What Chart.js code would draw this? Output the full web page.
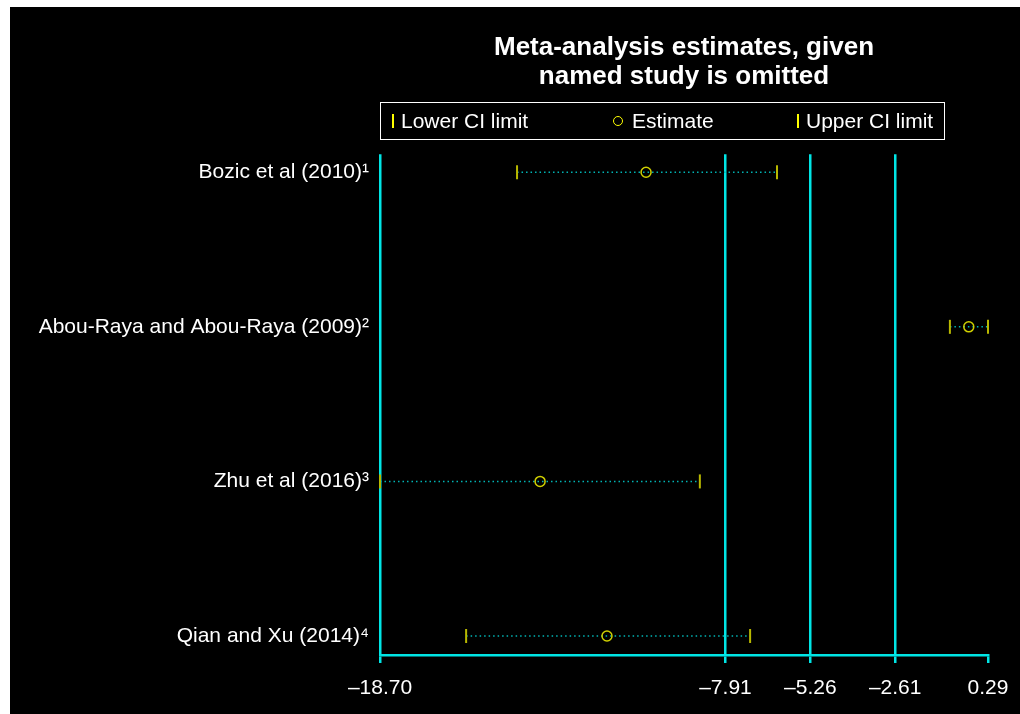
<!DOCTYPE html>
<html>
<head>
<meta charset="utf-8">
<script src="https://cdn.jsdelivr.net/npm/chart.js@4.4.1/dist/chart.umd.min.js"></script>
<style>
  html, body { margin: 0; padding: 0; background: #fff; }
  body { width: 1020px; height: 714px; position: relative; overflow: hidden; font-family: "Liberation Sans", Arial, sans-serif; }
  #bg { position: absolute; left: 10px; top: 7px; width: 1010px; height: 707px; background: #000; }
  #wrap { position: absolute; left: 0; top: 0; width: 1020px; height: 714px; }
  #legend { position: absolute; left: 380px; top: 102px; width: 563px; height: 36px; border: 1.5px solid #fff; color: #fff; font-size: 21px; }
  #legend span { position: absolute; top: 50%; transform: translateY(-50%); white-space: nowrap; }
  #legend .tick { width: 2px; height: 14px; background: #ffff00; }
  #legend .circ { width: 8px; height: 8px; border: 1.5px solid #ffff00; border-radius: 50%; }
</style>
</head>
<body>
<div id="bg"></div>
<div id="wrap"><canvas id="forest"></canvas></div>
<div id="legend">
  <span class="tick" style="left:11px"></span><span style="left:20px">Lower CI limit</span>
  <span class="circ" style="left:232px"></span><span style="left:251px">Estimate</span>
  <span class="tick" style="left:416px"></span><span style="left:425px">Upper CI limit</span>
</div>
<script>
// studies, top to bottom
var studies = ["Bozic et al (2010)\u00b9", "Abou-Raya and Abou-Raya (2009)\u00b2", "Zhu et al (2016)\u00b3", "Qian and Xu (2014)\u2074"];
var lowerCI = [-14.42, -0.90, -18.70, -16.01];
var estimate = [-10.39, -0.31, -13.70, -11.61];
var upperCI = [-6.30, 0.29, -8.71, -7.14];
var xTicks = [-18.70, -7.91, -5.26, -2.61, 0.29];

var cyan = "#00e5e5";
var dotCyan = "#00b4b4";
var ciColor = "#b8b800";
var estColor = "#d0d000";

function rowY(i) { return i + 1; }

var lineSets = studies.map(function(s, i) {
    return {
        type: "line",
        label: s,
        data: [{x: lowerCI[i], y: rowY(i)}, {x: upperCI[i], y: rowY(i)}],
        borderColor: dotCyan,
        borderWidth: 1.5,
        borderDash: [1.5, 3],
        pointRadius: 0,
        clip: false,
        order: 3
    };
});

var datasets = lineSets.concat([{
    label: "Lower CI limit",
    data: lowerCI.map(function(v, i) { return {x: v, y: rowY(i)}; }),
    pointStyle: "line",
    rotation: 90,
    pointRadius: 7,
    borderColor: ciColor,
    borderWidth: 2,
    clip: false,
    order: 2
}, {
    label: "Upper CI limit",
    data: upperCI.map(function(v, i) { return {x: v, y: rowY(i)}; }),
    pointStyle: "line",
    rotation: 90,
    pointRadius: 7,
    borderColor: ciColor,
    borderWidth: 2,
    clip: false,
    order: 2
}, {
    label: "Estimate",
    data: estimate.map(function(v, i) { return {x: v, y: rowY(i)}; }),
    pointStyle: "circle",
    pointRadius: 5,
    backgroundColor: "rgba(0,0,0,0)",
    borderColor: estColor,
    borderWidth: 1.5,
    clip: false,
    order: 1
}]);

Chart.defaults.font.family = "'Liberation Sans', Arial, sans-serif";
Chart.defaults.color = "#fff";

var forest_chart = new Chart(document.getElementById("forest").getContext("2d"), {
    type: "scatter",
    data: { datasets: datasets },
    options: {
        responsive: true,
        maintainAspectRatio: false,
        animation: false,
        events: [],
        layout: { padding: { left: 0, right: 32, top: 0, bottom: 0 } },
        plugins: {
            legend: { display: false },
            tooltip: { enabled: false },
            title: {
                display: true,
                fullSize: false,
                text: ["Meta-analysis estimates, given", "named study is omitted"],
                color: "#fff",
                font: { size: 26, weight: "bold", lineHeight: 1.12 },
                padding: { top: 33, bottom: 63 }
            }
        },
        scales: {
            x: {
                type: "linear",
                min: -18.70,
                max: 0.29,
                afterBuildTicks: function(scale) {
                    scale.ticks = xTicks.map(function(v) { return {value: v}; });
                },
                afterFit: function(scale) {
                    scale.height = 59;
                    scale.paddingLeft = 0;
                    scale.paddingRight = 0;
                },
                border: { display: true, color: cyan, width: 2.5 },
                grid: {
                    color: function(ctx) {
                        return (ctx.tick && ctx.tick.value === 0.29) ? "rgba(0,0,0,0)" : cyan;
                    },
                    tickColor: cyan,
                    lineWidth: 2.5,
                    tickLength: 8,
                    drawTicks: true
                },
                ticks: {
                    autoSkip: false,
                    maxRotation: 0,
                    padding: 13,
                    color: "#fff",
                    font: { size: 21 },
                    callback: function(v) {
                        return (v < 0 ? "\u2013" : "") + Math.abs(v).toFixed(2);
                    }
                }
            },
            y: {
                type: "linear",
                reverse: true,
                min: 0.8834,
                max: 4.123,
                afterBuildTicks: function(scale) {
                    scale.ticks = studies.map(function(s, i) { return {value: rowY(i)}; });
                },
                afterFit: function(scale) { scale.width = 380; },
                border: { display: false },
                grid: { display: false, drawTicks: false },
                ticks: {
                    autoSkip: false,
                    padding: 11,
                    color: "#fff",
                    font: { size: 21 },
                    callback: function(v) { return studies[v - 1]; }
                }
            }
        }
    }
});
</script>
</body>
</html>
